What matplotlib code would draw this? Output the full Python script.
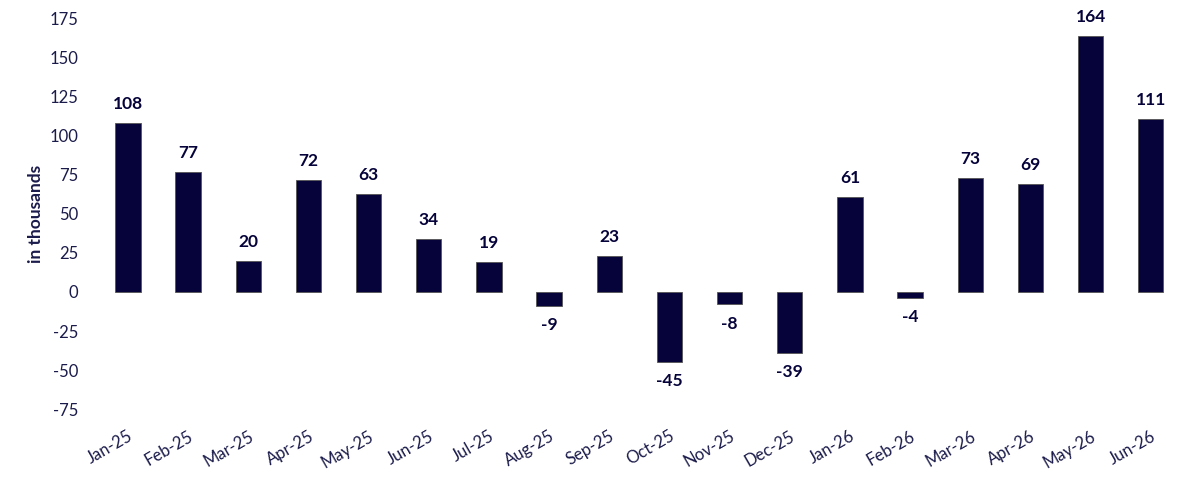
import matplotlib
matplotlib.use("Agg")
import matplotlib.pyplot as plt

months = ["Jan-25", "Feb-25", "Mar-25", "Apr-25", "May-25", "Jun-25", "Jul-25", "Aug-25",
          "Sep-25", "Oct-25", "Nov-25", "Dec-25", "Jan-26", "Feb-26", "Mar-26", "Apr-26",
          "May-26", "Jun-26"]
values = [108, 77, 20, 72, 63, 34, 19, -9, 23, -45, -8, -39, 61, -4, 73, 69, 164, 111]
yticks = [-75, -50, -25, 0, 25, 50, 75, 100, 125, 150, 175]

plt.rcParams['font.family'] = ['Lato', 'DejaVu Sans']
bar_color = "#06033a"
text_color = "#1b1b4b"

fig = plt.figure(figsize=(12, 4.83), dpi=100)
ax = fig.add_axes([0.079, 0.137, 0.9075, 0.84])
x = list(range(len(months)))
ax.bar(x, values, width=0.42, color=bar_color, edgecolor="#555555", linewidth=0.6)

for xi, v in zip(x, values):
    if v >= 0:
        ax.annotate(str(v), (xi, v), xytext=(0, 8), textcoords="offset points",
                    ha="center", va="bottom", fontsize=12.5, fontweight="bold", color=bar_color)
    else:
        ax.annotate(str(v), (xi, v), xytext=(0, -8), textcoords="offset points",
                    ha="center", va="top", fontsize=12.5, fontweight="bold", color=bar_color)

ax.set_xlim(-0.55, len(months) - 0.45)
ax.set_ylim(-80, 180)
ax.set_yticks(yticks)
ax.set_yticklabels([str(t) for t in yticks], fontsize=12, color=text_color)
ax.set_xticks(x)
ax.set_xticklabels(months, rotation=30, ha="right", rotation_mode="anchor",
                   fontsize=12, color=text_color)
ax.tick_params(axis="both", length=0)
ax.tick_params(axis="y", pad=12)
ax.tick_params(axis="x", pad=8)
for s in ax.spines.values():
    s.set_visible(False)
ax.set_ylabel("in thousands", fontsize=12.5, fontweight="bold", color=text_color, labelpad=4)

fig.savefig("out.png", dpi=100, facecolor="white")
